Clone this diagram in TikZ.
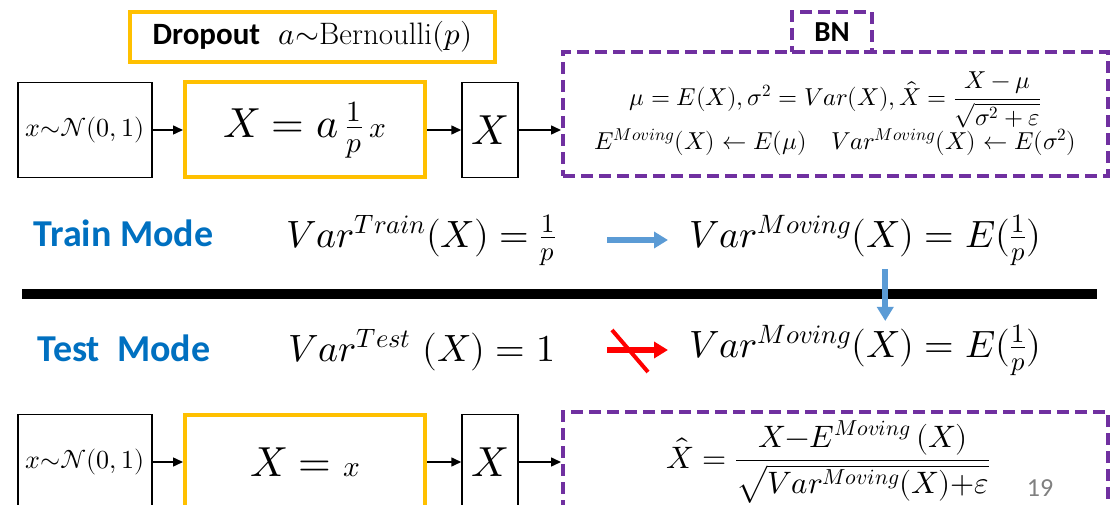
\documentclass[tikz,border=0pt]{standalone}
\usepackage{amsmath,amssymb}
\usepackage{fontspec}
\usepackage{unicode-math}
\setmathfont{Latin Modern Math}
\setsansfont{Carlito}
\usetikzlibrary{arrows.meta}
\definecolor{dorange}{RGB}{255,192,0}
\definecolor{bnpurple}{RGB}{112,48,160}
\definecolor{modeblue}{RGB}{0,112,192}
\definecolor{arrblue}{RGB}{91,155,213}
\tikzset{
  blkbox/.style = {draw, line width=1.5pt, inner sep=0, minimum height=95pt,
    font=\fontsize{26}{30}\selectfont},
  drpbox/.style = {draw=dorange, line width=4pt, inner sep=0, minimum height=95pt,
    minimum width=240pt, font=\fontsize{42}{46}\selectfont},
  bnbox/.style = {draw=bnpurple, line width=4pt, dash pattern=on 12pt off 6pt, inner sep=0},
  flow/.style = {-{Triangle[length=10pt,width=9pt]}, line width=1.5pt},
  bluearr/.style = {-{Triangle[length=14pt,width=16pt]}, line width=6pt, arrblue},
  modetxt/.style = {font=\sffamily\bfseries\fontsize{38}{40}\selectfont, text=modeblue},
  eqtxt/.style = {font=\fontsize{38}{40}\selectfont},
}

\begin{document}
\begin{tikzpicture}[x=1pt, y=-1pt]
  \useasboundingbox (0,0) rectangle (1117,505);
  \clip (0,0) rectangle (1117,505);

  % train row
  \node [draw=dorange, line width=4pt, minimum width=365pt, minimum height=50pt,
    font=\fontsize{31}{34}\selectfont] (drptitle) at (312.5,37)
    {\textsf{\bfseries Dropout}\ \ $a{\sim}\mathrm{Bernoulli}(p)$};
  \node [blkbox, minimum width=134pt] (src) at (85,130) {$x{\sim}\mathcal{N}(0,1)$};
  \node [drpbox] (drp) at (305,130) {$X = a\,\frac{1}{p}\,{\scriptstyle x}$};
  \node [blkbox, minimum width=56pt, font=\fontsize{42}{46}\selectfont] (xout) at (490,130) {$X$};
  \node [bnbox, minimum width=545pt, minimum height=124pt, align=center,
    font=\fontsize{24.5}{33}\selectfont] (bn) at (835.5,114)
    {$\mu = E(X), \sigma^2 = Var(X), \hat{X} = \dfrac{X-\mu}{\sqrt{\sigma^2+\varepsilon}}$\\
     $E^{Moving}(X) \leftarrow E(\mu)\quad Var^{Moving}(X) \leftarrow E(\sigma^2)$};
  \node [bnbox, minimum width=80pt, minimum height=40pt,
    font=\sffamily\bfseries\fontsize{29}{32}\selectfont] (bntab) at (832,32) {BN};
  \draw [flow] (src) -- (drp);
  \draw [flow] (drp) -- (xout);
  \draw [flow] (xout) -- (bn.west |- xout);

  % modes
  \node [modetxt, anchor=west] (train) at (30,233) {Train Mode};
  \node [eqtxt, anchor=west] (vtrain) at (283,240) {$Var^{Train}(X) = \frac{1}{p}$};
  \node [eqtxt, anchor=west] (vmov1) at (686,240) {$Var^{Moving}(X) = E(\frac{1}{p})$};
  \draw [bluearr] ([xshift=607pt]vtrain.west -| 0,0) -- ([xshift=-18pt]vmov1.west);

  \draw [line width=10pt] (22,294) -- (1097,294);

  \node [modetxt, anchor=west] (test) at (34,348) {Test\ \ Mode};
  \node [eqtxt, anchor=west] (vtest) at (285,350) {$Var^{Test}\ (X) = 1$};
  \node [eqtxt, anchor=west] (vmov2) at (686,350) {$Var^{Moving}(X) = E(\frac{1}{p})$};
  \draw [bluearr] ([xshift=20pt]vmov1.south) -- ([xshift=20pt]vmov2.north);
  \draw [bluearr, red] ([xshift=607pt]vtest.west -| 0,0) -- ([xshift=-18pt]vmov2.west);
  \draw [red, line width=4pt] (612,330) -- (648,372);

  % test row
  \node [blkbox, minimum width=134pt] (src2) at (85,462) {$x{\sim}\mathcal{N}(0,1)$};
  \node [drpbox] (drp2) at (305,462) {$X = {\scriptstyle x}$};
  \node [blkbox, minimum width=56pt, font=\fontsize{42}{46}\selectfont] (xout2) at (490,462) {$X$};
  \node [bnbox, minimum width=545pt, minimum height=100pt,
    font=\fontsize{31}{34}\selectfont] (bn2) at (835.5,462)
    {\hspace*{-7pt}$\hat{X} = \dfrac{X{-}E^{Moving}\,(X)}{\sqrt{Var^{Moving}(X){+}\varepsilon}}$\hspace*{7pt}};
  \draw [flow] (src2) -- (drp2);
  \draw [flow] (drp2) -- (xout2);
  \draw [flow] (xout2) -- (bn2.west |- xout2);
  \node [text=gray, font=\sffamily\fontsize{26}{30}\selectfont] (pnum) at (1040,488) {19};
\end{tikzpicture}
\end{document}
